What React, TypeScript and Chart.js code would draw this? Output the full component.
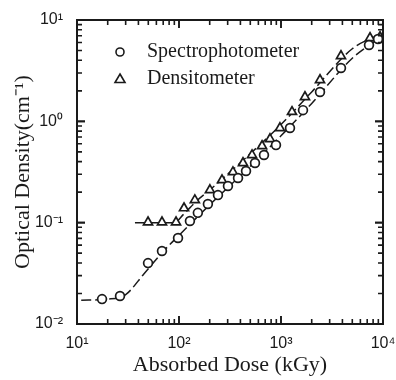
import React, { useEffect, useRef } from "react";
import Chart from "chart.js/auto";

// Spectrophotometer (circles)
const spectroDose = [17.6, 26.4, 49.7, 68.1, 97.8, 128, 153, 192, 241, 302, 379, 454, 556, 681, 893, 1225, 1643, 2412, 3873, 7290, 8940];
const spectroOD = [0.0176, 0.0189, 0.0399, 0.0525, 0.0705, 0.104, 0.125, 0.153, 0.187, 0.23, 0.276, 0.323, 0.388, 0.465, 0.583, 0.859, 1.29, 1.95, 3.36, 5.66, 6.49];

// Densitometer (triangles)
const densiDose = [49.7, 68.1, 93.5, 112, 143, 201, 264, 338, 424, 520, 652, 780, 977, 1282, 1718, 2412, 3873, 7460, 9350];
const densiOD = [0.101, 0.101, 0.101, 0.139, 0.167, 0.21, 0.263, 0.316, 0.388, 0.465, 0.571, 0.669, 0.859, 1.24, 1.74, 2.56, 4.42, 6.65, 6.8];

// Fitted curves (dashed)
const spectroFitDose = [11, 20, 30, 45, 70, 100, 200, 500, 1000, 2000, 5000, 10000];
const spectroFitOD = [0.0172, 0.0176, 0.0195, 0.031, 0.052, 0.075, 0.15, 0.36, 0.72, 1.5, 4.2, 7.0];
const densiFitDose = [37, 60, 90, 110, 150, 200, 500, 1000, 2000, 5000, 10000];
const densiFitOD = [0.1, 0.1, 0.1, 0.12, 0.165, 0.21, 0.48, 0.93, 1.95, 5.2, 7.4];

const xTickValues = [10, 100, 1000, 10000];
const xTickLabels = ["10¹", "10²", "10³", "10⁴"];
const yTickValues = [0.01, 0.1, 1, 10];
const yTickLabels = ["10⁻²", "10⁻¹", "10⁰", "10¹"];

const legendLabels = ["Spectrophotometer", "Densitometer"];

const INK = "#1a1a1a";
const SERIF = "'Liberation Serif', 'Times New Roman', serif";
const SANS = "'Liberation Sans', Arial, sans-serif";

const toXY = (xs: number[], ys: number[]) => xs.map((x, i) => ({ x, y: ys[i] }));

const labelFor = (vals: number[], labels: string[]) => (v: any) => {
  const i = vals.findIndex((t) => Math.abs(t - Number(v)) / t < 1e-6);
  return i >= 0 ? labels[i] : "";
};

const framePlugin = {
  id: "frameTicks",
  afterDatasetsDraw(chart: any) {
    const { ctx, chartArea } = chart;
    const { left, right, top, bottom } = chartArea;
    const xs = chart.scales.x;
    const ys = chart.scales.y;
    ctx.save();
    ctx.strokeStyle = INK;
    ctx.lineWidth = 2;
    ctx.strokeRect(left, top, right - left, bottom - top);
    ctx.lineWidth = 1.6;
    const major = 8;
    const minor = 5;
    for (let d = 10; d < 10000; d *= 10) {
      for (let m = 1; m <= 10; m++) {
        const v = d * m;
        if (v < xs.min || v > xs.max) continue;
        const len = m === 1 || m === 10 ? major : minor;
        const px = xs.getPixelForValue(v);
        ctx.beginPath();
        ctx.moveTo(px, bottom);
        ctx.lineTo(px, bottom - len);
        ctx.moveTo(px, top);
        ctx.lineTo(px, top + len);
        ctx.stroke();
      }
    }
    for (let d = 0.01; d < 10; d *= 10) {
      for (let m = 1; m <= 10; m++) {
        const v = d * m;
        if (v < ys.min * 0.999 || v > ys.max * 1.001) continue;
        const len = m === 1 || m === 10 ? major : minor;
        const py = ys.getPixelForValue(v);
        ctx.beginPath();
        ctx.moveTo(left, py);
        ctx.lineTo(left + len, py);
        ctx.moveTo(right, py);
        ctx.lineTo(right - len, py);
        ctx.stroke();
      }
    }
    // legend
    const lx = left + 43;
    const ly1 = top + 32;
    const ly2 = top + 59;
    ctx.lineWidth = 1.6;
    ctx.fillStyle = "#fff";
    ctx.beginPath();
    ctx.arc(lx, ly1, 4, 0, Math.PI * 2);
    ctx.fill();
    ctx.stroke();
    ctx.beginPath();
    ctx.moveTo(lx, ly2 - 5);
    ctx.lineTo(lx + 5, ly2 + 3.5);
    ctx.lineTo(lx - 5, ly2 + 3.5);
    ctx.closePath();
    ctx.fill();
    ctx.stroke();
    ctx.fillStyle = INK;
    ctx.font = "20px " + SERIF;
    ctx.textBaseline = "middle";
    ctx.textAlign = "left";
    ctx.fillText(legendLabels[0], lx + 27, ly1);
    ctx.fillText(legendLabels[1], lx + 27, ly2);
    ctx.restore();
  },
};

export default function App() {
  const canvasRef = useRef<HTMLCanvasElement | null>(null);

  useEffect(() => {
    if (!canvasRef.current) return;
    const pointCommon = {
      showLine: false,
      borderColor: INK,
      backgroundColor: "#ffffff",
      pointBorderWidth: 1.7,
      pointBackgroundColor: "#ffffff",
      pointBorderColor: INK,
    };
    const lineCommon = {
      showLine: true,
      pointRadius: 0,
      borderColor: INK,
      borderWidth: 1.5,
      borderDash: [10, 4],
      cubicInterpolationMode: "monotone" as const,
      fill: false,
    };
    const chart = new Chart(canvasRef.current, {
      type: "scatter",
      data: {
        datasets: [
          { ...pointCommon, label: legendLabels[0], data: toXY(spectroDose, spectroOD), pointStyle: "circle", pointRadius: 4.4, order: 0 },
          { ...pointCommon, label: legendLabels[1], data: toXY(densiDose, densiOD), pointStyle: "triangle", pointRadius: 5.2, order: 0 },
          { ...lineCommon, label: "fit1", data: toXY(spectroFitDose, spectroFitOD), order: 1 },
          { ...lineCommon, label: "fit2", data: toXY(densiFitDose, densiFitOD), order: 1 },
        ],
      },
      options: {
        animation: false,
        responsive: false,
        maintainAspectRatio: false,
        layout: { padding: { top: 20, right: 13, left: 0, bottom: 0 } },
        plugins: { legend: { display: false }, tooltip: { enabled: false } },
        scales: {
          x: {
            type: "logarithmic",
            min: 10,
            max: 10000,
            afterBuildTicks: (s: any) => {
              s.ticks = xTickValues.map((v) => ({ value: v }));
            },
            afterFit: (s: any) => {
              s.height = 56;
              s.paddingLeft = 0;
              s.paddingRight = 0;
            },
            grid: { display: false, drawTicks: false },
            border: { display: false },
            ticks: {
              autoSkip: false,
              maxRotation: 0,
              padding: 10,
              color: INK,
              font: { family: SANS, size: 16 },
              callback: labelFor(xTickValues, xTickLabels),
            },
            title: {
              display: true,
              text: "Absorbed Dose (kGy)",
              color: INK,
              font: { family: SERIF, size: 22 },
              padding: { top: 0, bottom: 2 },
            },
          },
          y: {
            type: "logarithmic",
            min: 0.01,
            max: 10,
            afterBuildTicks: (s: any) => {
              s.ticks = yTickValues.map((v) => ({ value: v }));
            },
            afterFit: (s: any) => {
              s.width = 77;
              s.paddingTop = 0;
              s.paddingBottom = 0;
            },
            grid: { display: false, drawTicks: false },
            border: { display: false },
            ticks: {
              autoSkip: false,
              padding: 14,
              color: INK,
              font: { family: SANS, size: 16 },
              callback: labelFor(yTickValues, yTickLabels),
            },
            title: {
              display: true,
              text: "Optical Density(cm⁻¹)",
              color: INK,
              font: { family: SERIF, size: 22 },
              padding: { top: 10, bottom: 0 },
            },
          },
        },
      },
      plugins: [framePlugin],
    });
    return () => chart.destroy();
  }, []);

  return (
    <div style={{ position: "absolute", left: 0, top: 0, width: 396, height: 380, background: "#fff" }}>
      <canvas ref={canvasRef} width={396} height={380} style={{ display: "block", width: 396, height: 380 }} />
    </div>
  );
}
